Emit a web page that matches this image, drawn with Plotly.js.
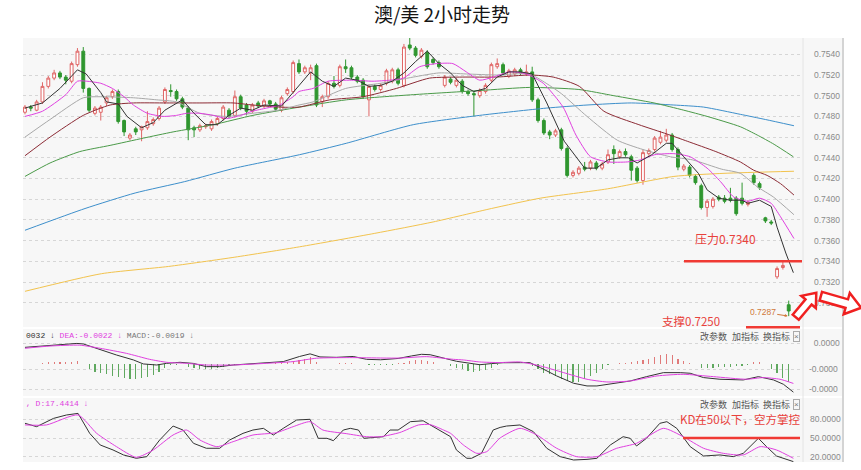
<!DOCTYPE html>
<html><head><meta charset="utf-8">
<script src="https://cdn.plot.ly/plotly-3.0.1.min.js"></script>
<style>html,body{margin:0;padding:0;background:#fff}#chart{width:861px;height:470px}</style>
</head><body><div id="chart"></div>
<script>
// ---------------- DATA ----------------
const titleText = '澳/美 2小时走势';
const open  = [0.7484,0.7489,0.7486,0.7494,0.7509,0.7517,0.7522,0.7518,0.7514,0.7530,0.7543,0.7507,0.7483,0.7484,0.7493,0.7499,0.7504,0.7476,0.7459,0.7468,0.7467,0.7469,0.7473,0.7478,0.7494,0.7505,0.7504,0.7497,0.7488,0.7469,0.7467,0.7470,0.7468,0.7473,0.7478,0.7486,0.7481,0.7499,0.7491,0.7485,0.7493,0.7490,0.7495,0.7492,0.7486,0.7502,0.7504,0.7531,0.7523,0.7522,0.7529,0.7494,0.7499,0.7512,0.7510,0.7528,0.7527,0.7518,0.7515,0.7496,0.7509,0.7506,0.7512,0.7514,0.7525,0.7510,0.7549,0.7546,0.7538,0.7542,0.7535,0.7532,0.7510,0.7516,0.7510,0.7514,0.7504,0.7502,0.7500,0.7504,0.7515,0.7528,0.7530,0.7519,0.7521,0.7525,0.7521,0.7523,0.7496,0.7476,0.7465,0.7462,0.7467,0.7449,0.7423,0.7425,0.7431,0.7430,0.7435,0.7430,0.7436,0.7448,0.7441,0.7446,0.7441,0.7430,0.7418,0.7444,0.7448,0.7455,0.7457,0.7462,0.7448,0.7429,0.7431,0.7422,0.7413,0.7392,0.7393,0.7402,0.7401,0.7401,0.7401,0.7401,0.7395,0.7423,0.7415,0.7382,0.7378,0.7325,0.7334,0.7298];
const high  = [0.7491,0.7491,0.7496,0.7513,0.7519,0.7525,0.7524,0.7520,0.7533,0.7546,0.7547,0.7508,0.7490,0.7491,0.7500,0.7506,0.7506,0.7477,0.7464,0.7470,0.7471,0.7485,0.7479,0.7490,0.7508,0.7511,0.7506,0.7499,0.7490,0.7471,0.7473,0.7473,0.7477,0.7480,0.7491,0.7488,0.7505,0.7501,0.7493,0.7493,0.7495,0.7497,0.7496,0.7494,0.7500,0.7508,0.7534,0.7535,0.7529,0.7530,0.7531,0.7501,0.7514,0.7519,0.7530,0.7535,0.7529,0.7520,0.7517,0.7511,0.7511,0.7512,0.7526,0.7527,0.7527,0.7550,0.7556,0.7548,0.7546,0.7544,0.7537,0.7534,0.7520,0.7518,0.7517,0.7516,0.7506,0.7504,0.7507,0.7512,0.7532,0.7536,0.7532,0.7526,0.7527,0.7527,0.7530,0.7528,0.7498,0.7478,0.7467,0.7468,0.7469,0.7451,0.7428,0.7432,0.7436,0.7438,0.7437,0.7436,0.7448,0.7452,0.7448,0.7449,0.7443,0.7432,0.7448,0.7449,0.7461,0.7466,0.7468,0.7464,0.7450,0.7434,0.7433,0.7424,0.7415,0.7400,0.7402,0.7404,0.7404,0.7411,0.7403,0.7416,0.7399,0.7425,0.7417,0.7383,0.7380,0.7335,0.7340,0.7302];
const low   = [0.7482,0.7485,0.7485,0.7492,0.7507,0.7515,0.7516,0.7511,0.7512,0.7528,0.7503,0.7484,0.7481,0.7476,0.7490,0.7497,0.7473,0.7461,0.7457,0.7462,0.7456,0.7467,0.7471,0.7476,0.7492,0.7499,0.7495,0.7487,0.7457,0.7460,0.7465,0.7468,0.7466,0.7471,0.7476,0.7478,0.7479,0.7486,0.7481,0.7483,0.7488,0.7488,0.7490,0.7485,0.7484,0.7500,0.7502,0.7521,0.7521,0.7515,0.7489,0.7489,0.7497,0.7507,0.7508,0.7522,0.7516,0.7512,0.7497,0.7480,0.7504,0.7504,0.7510,0.7512,0.7510,0.7508,0.7544,0.7537,0.7536,0.7526,0.7530,0.7526,0.7508,0.7511,0.7508,0.7502,0.7500,0.7480,0.7498,0.7502,0.7513,0.7526,0.7520,0.7517,0.7519,0.7520,0.7519,0.7494,0.7474,0.7462,0.7458,0.7460,0.7447,0.7421,0.7421,0.7423,0.7427,0.7428,0.7428,0.7428,0.7434,0.7434,0.7439,0.7441,0.7418,0.7416,0.7414,0.7442,0.7446,0.7453,0.7455,0.7446,0.7428,0.7427,0.7421,0.7414,0.7390,0.7383,0.7391,0.7398,0.7396,0.7397,0.7384,0.7394,0.7393,0.7414,0.7409,0.7377,0.7375,0.7323,0.7332,0.7287];
const close = [0.7489,0.7488,0.7494,0.7509,0.7517,0.7522,0.7518,0.7515,0.7531,0.7543,0.7507,0.7486,0.7488,0.7489,0.7498,0.7504,0.7475,0.7465,0.7462,0.7465,0.7470,0.7475,0.7477,0.7488,0.7506,0.7504,0.7497,0.7489,0.7467,0.7467,0.7471,0.7471,0.7475,0.7478,0.7489,0.7480,0.7499,0.7488,0.7485,0.7491,0.7490,0.7495,0.7492,0.7487,0.7498,0.7506,0.7532,0.7523,0.7527,0.7527,0.7491,0.7499,0.7512,0.7509,0.7528,0.7526,0.7518,0.7514,0.7499,0.7509,0.7506,0.7510,0.7524,0.7525,0.7512,0.7547,0.7546,0.7539,0.7544,0.7528,0.7532,0.7528,0.7518,0.7513,0.7515,0.7504,0.7502,0.7501,0.7505,0.7510,0.7530,0.7531,0.7522,0.7524,0.7525,0.7522,0.7523,0.7496,0.7476,0.7464,0.7462,0.7466,0.7449,0.7423,0.7426,0.7430,0.7429,0.7436,0.7430,0.7434,0.7443,0.7444,0.7446,0.7443,0.7428,0.7418,0.7445,0.7447,0.7459,0.7460,0.7462,0.7448,0.7431,0.7432,0.7423,0.7416,0.7392,0.7398,0.7400,0.7400,0.7398,0.7399,0.7386,0.7396,0.7397,0.7416,0.7411,0.7379,0.7377,0.7333,0.7336,0.7292];

// moving-average lines (bar index, price)
const ma5X = [0,3,6,9,10.5,13,14,16,17.5,20,22,24,27,29,31,33,35,37,39,41,44,46,49,51,53,55,57,59,61,63,65,67,69,71,73,75,77,79,81,83,85,87,89.5,92.5,96,98,100,102,103.5,105,107.5,110,111,113,115.5,117,119,121,123,124,126,128,129,130.5,131.8];
const ma5  = [0.7488,0.7493,0.7507,0.7525,0.7521,0.7503,0.7494,0.7492,0.7480,0.7469,0.7474,0.7486,0.7496,0.7483,0.7472,0.7472,0.7481,0.7488,0.7486,0.7491,0.7490,0.7503,0.7523,0.7514,0.7509,0.7517,0.7515,0.7509,0.7510,0.7514,0.7522,0.7533,0.7543,0.7531,0.7522,0.7510,0.7504,0.7507,0.7518,0.7523,0.7523,0.7521,0.7493,0.7456,0.7430,0.7430,0.7438,0.7440,0.7440,0.7435,0.7443,0.7454,0.7454,0.7441,0.7425,0.7409,0.7401,0.7399,0.7399,0.7396,0.7399,0.7393,0.7373,0.7348,0.7329];
const ma10X = [0,3,7,9,10.6,13,15,17,18.6,21,23.7,26,27.7,30,32.3,34.6,37,39,41.4,43.7,46,47,49.4,52,56,59.7,62.6,64.9,67.7,70.6,73.4,75.7,78,80.3,83.1,86,88.9,92.3,94.5,97,100,103.3,105.6,108,111.3,114.1,117,119.3,121.6,124,126,128,129.6,131.9];
const ma10  = [0.7480,0.7485,0.7501,0.7514,0.7514,0.7512,0.7507,0.7499,0.7491,0.7483,0.7480,0.7481,0.7483,0.7483,0.7481,0.7478,0.7481,0.7485,0.7488,0.7491,0.7499,0.7504,0.7507,0.7514,0.7515,0.7514,0.7515,0.7517,0.7528,0.7531,0.7531,0.7523,0.7515,0.7518,0.7523,0.7521,0.7512,0.7489,0.7462,0.7441,0.7436,0.7436,0.7438,0.7443,0.7444,0.7441,0.7430,0.7417,0.7402,0.7398,0.7401,0.7396,0.7383,0.7362];
const ma20X = [0,4.3,10,13,18.6,22.6,26,30,34.6,39,43.5,47,49.4,55,61,66.6,71,75.7,80.9,86.5,89.4,92,96.4,101.6,106,110.7,114.5,119.5,122.7,125.6,128.4,131.9];
const ma20  = [0.7460,0.7477,0.7498,0.7499,0.7498,0.7496,0.7494,0.7483,0.7480,0.7483,0.7486,0.7491,0.7494,0.7507,0.7512,0.7518,0.7522,0.7521,0.7520,0.7521,0.7512,0.7502,0.7480,0.7457,0.7448,0.7441,0.7438,0.7429,0.7425,0.7412,0.7402,0.7385];
const ma30X = [0,4.3,10,14.6,18.6,24.3,30,35.7,39.1,43.5,47,52.3,58,63.7,69.4,75.1,80.9,86.6,90.6,95.1,99.3,105.3,110.1,113.6,118.5,122.7,125,127.3,129.6,131.9];
const ma30  = [0.7442,0.7460,0.7481,0.7491,0.7493,0.7493,0.7493,0.7493,0.7491,0.7489,0.7489,0.7496,0.7499,0.7507,0.7517,0.7518,0.7518,0.7520,0.7518,0.7509,0.7485,0.7472,0.7463,0.7456,0.7446,0.7436,0.7428,0.7423,0.7415,0.7404];
const ma60X = [0,4.3,9.4,14.6,20.3,25.4,32.3,39.1,47.1,55.1,66.6,78,86.6,95,101,107.9,113,117,122.7,125.6,128.5,131.8];
const ma60  = [0.7422,0.7435,0.7446,0.7452,0.7459,0.7465,0.7472,0.7481,0.7489,0.7496,0.7501,0.7505,0.7508,0.7506,0.7500,0.7493,0.7486,0.7480,0.7470,0.7462,0.7453,0.7441];
const ma120X = [0,10.3,18.9,27.4,36,47.1,55.1,66.6,78,89.4,96.4,104,111.3,116.4,122.7,127,131.9];
const ma120  = [0.7370,0.7391,0.7406,0.7417,0.7430,0.7443,0.7454,0.7472,0.7481,0.7488,0.7491,0.7493,0.7491,0.7489,0.7482,0.7477,0.7471];
const ma250X = [0,13.1,24.6,36,47.1,60,70,80,88.4,99.9,111.3,119.9,131.9];
const ma250  = [0.7311,0.7328,0.7335,0.7344,0.7354,0.7367,0.7378,0.7391,0.7401,0.7410,0.7422,0.7425,0.7427];

const priceTicks = [0.7300,0.7320,0.7340,0.7360,0.7380,0.7400,0.7420,0.7440,0.7460,0.7480,0.7500,0.7520,0.7540];
const priceTickText = ['0.7300','0.7320','0.7340','0.7360','0.7380','0.7400','0.7420','0.7440','0.7460','0.7480','0.7500','0.7520','0.7540'];

// MACD
const macdHist = [0.00006,0.00006,0.00008,0.0002,0.00026,0.00031,0.00023,0.00023,0.00026,0.00043,0.00006,-0.00058,-0.00084,-0.00104,-0.00112,-0.00135,-0.0015,-0.00161,-0.00173,-0.00164,-0.00161,-0.00141,-0.00123,-0.00084,-0.00046,-0.00008,-0.00003,0.00003,-0.00026,-0.00046,-0.00058,-0.00058,-0.00049,-0.00038,-0.00026,-0.0002,-0.00008,-0.00003,0.00003,0.00003,0.00006,0.00006,0.00008,0.00012,0.0002,0.00031,0.00043,0.00055,0.0006,0.00082,0.00031,0.00008,0.00003,0.00001,0.00015,0.00015,0.00012,0.00003,-0.00002,-0.00005,-0.0001,-0.0001,-0.0001,-0.00005,0.00012,0.0002,0.00038,0.00046,0.00046,0.00043,0.00026,0.00005,0.00003,-0.0002,-0.00038,-0.00058,-0.00077,-0.00084,-0.00077,-0.0006,-0.00038,-0.00006,0.00003,0.00003,0.00003,0.00003,0.00003,-0.00017,-0.00058,-0.00095,-0.00115,-0.00135,-0.00164,-0.00192,-0.00204,-0.00204,-0.00173,-0.00135,-0.00095,-0.00058,-0.00006,0.00008,0.00012,0.0002,0.00026,0.00038,0.00049,0.00066,0.00089,0.00104,0.00115,0.00104,0.00066,0.00038,0.0002,0,-0.00038,-0.00038,-0.00038,-0.00031,-0.00031,-0.00026,-0.0002,-0.00015,-0.00012,0.00026,0.00026,0.00003,-0.00058,-0.00095,-0.00153,-0.0020];
const difX = [0,3.1,8.9,10,12.9,15.7,18.6,20.3,22.6,24.3,26.6,28.9,31.1,33.4,35.7,38.6,41.4,44.3,47.1,48.9,50.6,53.4,56.3,58.6,61,64,66.3,68,69.5,71.8,74,76.5,78,80,82,85,86.6,88.4,91.2,94.1,96.4,98.1,100.9,103.8,106.6,109.5,112.4,114.1,116.4,119.2,123.2,125.8,128.4,130.1,131.8];
const dif  = [0.00195,0.0021,0.0024,0.00234,0.00165,0.00107,0.0005,0.00004,-0.00008,0.00011,0.00023,0.0001,-0.00027,-0.00027,-0.00008,0.00004,0.00019,0.00031,0.0009,0.0012,0.00085,0.0008,0.0009,0.00057,0.00052,0.00067,0.00096,0.00115,0.0011,0.0007,0.00035,0.0001,-0.00005,0.00008,0.00018,0.00019,0.00019,-0.00038,-0.00134,-0.00218,-0.00249,-0.00249,-0.00222,-0.00192,-0.00142,-0.00096,-0.00096,-0.00103,-0.00153,-0.00172,-0.0018,-0.00142,-0.0018,-0.0023,-0.0032];
const deaX = [0,4.3,9.4,12.9,17.4,21.4,24.3,27.7,31.1,35.7,41.4,46,50,55.7,61.4,64.3,68.9,73.5,75.2,78,81.5,84.9,88.4,92.4,96.4,99.8,103.8,108.4,112.9,118.1,123.8,126.6,129.5,131.8];
const dea  = [0.00184,0.0021,0.0022,0.00184,0.00126,0.00057,0.00023,0.00011,-0.00008,-0.00008,0.00011,0.00031,0.0007,0.00077,0.00072,0.00072,0.00088,0.00057,0.0005,0.00027,0.0002,0.00027,-0.00019,-0.00096,-0.00172,-0.00203,-0.00192,-0.00134,-0.00115,-0.00142,-0.00172,-0.00153,-0.00172,-0.0022];
const macdTickText = ['\u20070.0000','-0.0000','-0.0000'];

// KD
const kX = [0,2,4.9,7.1,9.1,11.1,12.9,15.1,16.9,19.1,20.9,23.1,25.4,27.1,28.9,31.1,33.4,35.1,37.4,39.1,40.9,42.6,44.3,46.6,48.9,50.3,51.8,52.9,54.6,55.8,57.2,58.1,61.5,62.6,64,66.1,68.3,69.5,71.2,73,74,75.8,76.6,78.3,80.3,81.5,82.6,84.9,87.2,89.5,91.8,94.1,96.4,98.1,100.4,102.6,103.8,104.9,106.6,108.9,110.1,111.8,114.1,116.4,119.2,121.5,123.2,125.8,127.2,128.9,131.8];
const kVal = [73.6,68.2,81.5,86.9,89.5,57.5,38.8,30.8,22.8,17.4,20.1,46.8,69.2,62.8,41.5,33.5,33.5,46.8,57.5,62.8,65.5,54.8,65.5,78.9,80,49.5,49.5,45.7,62.8,65.5,62.8,49.5,52.1,62.8,62.8,76.2,77.6,70.9,62.8,52.1,30.8,17.4,17.4,25.4,62.8,67,69.2,70.9,60.2,33.5,20.1,14.7,15.7,17.4,38.8,52.1,49.5,37.2,49.5,73.6,76.2,65.5,36.1,21.1,22.8,20.1,25.4,49.5,36.1,21.1,12.1];
const dX = [0,3.7,9.1,12.3,15.7,19.1,22,25.4,27.7,30,32.9,35.7,39.1,43.1,46,48.9,51.1,55.1,58.6,61,64.3,67.5,69.5,71.8,73,75.2,77.5,79.2,81.5,84.9,87.8,91.2,94.6,98.1,101.5,104.9,109.5,112.9,116.4,119.8,123.2,126.1,128.9,131.8];
const dVal = [71,71,87,57.5,36.1,19,30.8,54.8,62.8,46.8,36.1,44.1,54.8,58.5,68.2,76.2,62.8,57,52.1,52.1,58.8,70.9,71.5,62.8,57.5,38.8,25.4,28.1,50,65.5,54.8,33.5,20.1,20.1,33.5,41.5,65.5,52.1,33.5,25.4,22.8,36.1,30.8,17.4];
const kdTicks = [80,50,20];
const kdTickText = ['80.0000','50.0000','20.0000'];

const macdHeader = ['0032 ↓ ', 'DEA:-0.0022 ↓ ', 'MACD:-0.0019 ↓'];
const kdHeader = ', D:17.4414 ↓';
const toolWords = ['改参数','加指标','换指标'];
const highLabel = {idx:66, price:0.7556, text:'0.7556'};
const lowLabel  = {idx:131, price:0.7287, text:'0.7287'};
const resistance = {price:0.7340, text:'压力0.7340'};
const support = {text:'支撑0.7250'};
const kdNote = {level:50, text:'KD在50以下，空方掌控'};

// ---------------- LAYOUT GEOMETRY ----------------
const L=23, R=803, T=38, B=462;
const px2x = p => (p-L)/(R-L);
const px2y = p => (B-p)/(B-T);
const priceAtPx = p => 0.7540 - (p-54.3)/10350;
const macdAtPx = p => (364.3-p)*0.000115;
const kdAtPx = p => 50 + (438-p)/0.623;

const idx = open.map((_,i)=>i);
const RED='#e06666', GREEN='#2f962f';

const lineTrace = (x,y,color,shape,yaxis) => ({type:'scatter',mode:'lines',x:x,y:y,xaxis:'x',yaxis:yaxis||'y',
  line:{color:color,width:1,shape:shape||'spline',smoothing:0.6},hoverinfo:'skip',showlegend:false});

const traces = [
  lineTrace(ma250X, ma250, '#f2c34e'),
  lineTrace(ma120X, ma120, '#3d8fcb'),
  lineTrace(ma60X, ma60, '#4a9a48'),
  lineTrace(ma30X, ma30, '#8c2b35'),
  lineTrace(ma20X, ma20, '#a8a8a8'),
  {type:'candlestick',x:idx,open:open,high:high,low:low,close:close,xaxis:'x',yaxis:'y',
   increasing:{line:{color:RED,width:1},fillcolor:'#ffffff'},
   decreasing:{line:{color:GREEN,width:1},fillcolor:GREEN},
   whiskerwidth:0,hoverinfo:'skip',showlegend:false},
  lineTrace(ma10X, ma10, '#e040e0'),
  lineTrace(ma5X, ma5, '#333333','linear'),
  {type:'bar',x:idx,y:macdHist,xaxis:'x',yaxis:'y2',width:0.2,
   marker:{color:macdHist.map(v=>v>=0?'#e07a7a':'#5fa85f'),line:{width:0}},hoverinfo:'skip',showlegend:false},
  lineTrace(difX, dif, '#333333','linear','y2'),
  lineTrace(deaX, dea, '#e040e0','spline','y2'),
  lineTrace(kX, kVal, '#333333','linear','y3'),
  lineTrace(dX, dVal, '#e040e0','spline','y3'),
];

const axisFont = {family:'Liberation Sans, Arial, sans-serif', size:8.5, color:'#8a8a8a'};
const yBase = {side:'right',showline:false,zeroline:false,ticks:'',showgrid:true,gridcolor:'#d6d6d6',griddash:'dot',gridwidth:1,
  tickfont:axisFont,tickmode:'array',fixedrange:true};

const annotations = [];
const addText = (px,py,text,font,anchor,extra) => annotations.push(Object.assign({xref:'paper',yref:'paper',x:px2x(px),y:px2y(py),
  text:text,showarrow:false,xanchor:anchor||'left',yanchor:'middle',font:font},extra||{}));

// MACD header
addText(L+1,335,'<span style="color:#333">'+macdHeader[0]+'</span><span style="color:#e040e0">'+macdHeader[1]+'</span><span style="color:#777">'+macdHeader[2]+'</span>',
  {family:'Liberation Mono, monospace',size:8,color:'#333'});
addText(L+1,403,kdHeader,{family:'Liberation Mono, monospace',size:8,color:'#e040e0'});
// tool words on both indicator panels
[336,404].forEach(py=>{
  [698,730,761].forEach((px,i)=>addText(px,py,toolWords[i],{family:'Noto Sans CJK SC',size:9,color:'#555'}));
  addText(796.5,py,'×',{family:'Liberation Sans',size:8,color:'#777'},'center',{bordercolor:'#aaa',borderwidth:1,borderpad:0,bgcolor:'#f7f7f7'});
});
// red notes
const redFont = {family:'Noto Sans CJK SC',size:12,color:'#e8413c'};
addText(725,238,resistance.text,redFont,'center');
addText(691,321,support.text,{family:'Noto Sans CJK SC',size:11.5,color:'#e8413c'},'center');
addText(740,419,kdNote.text,{family:'Noto Sans CJK SC',size:11.5,color:'#e8413c'},'center');
// price labels with small arrows
const orange = '#d0773a';
annotations.push({xref:'x',yref:'y',x:highLabel.idx,y:highLabel.price,text:highLabel.text,showarrow:true,ax:24,ay:4,
  arrowhead:2,arrowsize:0.6,arrowwidth:1,arrowcolor:orange,font:{family:'Liberation Sans',size:8.5,color:orange},standoff:1});
annotations.push({xref:'x',yref:'y',x:lowLabel.idx,y:lowLabel.price,text:lowLabel.text,showarrow:true,ax:-26,ay:-4,
  arrowhead:2,arrowsize:0.6,arrowwidth:1,arrowcolor:orange,font:{family:'Liberation Sans',size:8.5,color:orange},standoff:1});

// shapes
const shapes = [];
[[T,327],[329,396],[398,B]].forEach(([a,b])=>shapes.push({type:'rect',xref:'paper',yref:'paper',x0:1,x1:px2x(842),y0:px2y(b),y1:px2y(a),
  fillcolor:'#f7f7f7',line:{width:0},layer:'below'}));
shapes.push({type:'line',xref:'paper',yref:'paper',x0:1,x1:1,y0:0,y1:1,line:{color:'#e4e4e4',width:1}});
shapes.push({type:'line',xref:'paper',yref:'paper',x0:px2x(843),x1:px2x(843),y0:0,y1:1,line:{color:'#d4d4d4',width:2}});
shapes.push({type:'line',xref:'paper',yref:'y',x0:px2x(684),x1:px2x(802),y0:resistance.price,y1:resistance.price,line:{color:'#f03a34',width:2.5}});
shapes.push({type:'line',xref:'paper',yref:'paper',x0:px2x(746),x1:px2x(800),y0:px2y(327.3),y1:px2y(327.3),line:{color:'#f03a34',width:2.5}});
shapes.push({type:'line',xref:'paper',yref:'y3',x0:px2x(683),x1:px2x(800),y0:kdNote.level,y1:kdNote.level,line:{color:'#f03a34',width:2.5}});
function arrowPath(cx,cy,len,angDeg,shaftW,headW,headLen){
  const a=angDeg*Math.PI/180, ux=Math.cos(a), uy=Math.sin(a), vx=-uy, vy=ux;
  const h=len/2, pts=[[-h,-shaftW/2],[h-headLen,-shaftW/2],[h-headLen,-headW/2],[h,0],[h-headLen,headW/2],[h-headLen,shaftW/2],[-h,shaftW/2]];
  return pts.map((p,i)=>{const sx=cx+p[0]*ux+p[1]*vx, sy=cy+p[0]*uy+p[1]*vy; return (i?'L':'M')+px2x(sx).toFixed(5)+','+px2y(sy).toFixed(5);}).join(' ')+' Z';
}
shapes.push({type:'path',xref:'paper',yref:'paper',path:arrowPath(806,305,32,-50,8,19,12),fillcolor:'#ffffff',line:{color:'#f02020',width:2.5}});
shapes.push({type:'path',xref:'paper',yref:'paper',path:arrowPath(841,302,42,16,9,22,15),fillcolor:'#ffffff',line:{color:'#f02020',width:2.5}});

const layout = {
  width:861,height:470,
  margin:{l:L,r:861-R,t:T,b:470-B,pad:0},
  paper_bgcolor:'#ffffff',plot_bgcolor:'#f7f7f7',
  showlegend:false,hovermode:false,
  title:{text:titleText,x:442/861,xref:'container',xanchor:'center',y:1-15/470,yref:'container',yanchor:'middle',
    font:{family:'Noto Sans CJK SC',size:19,color:'#151515'}},
  xaxis:{range:[-0.34,133.45],visible:false,fixedrange:true,rangeslider:{visible:false},anchor:'y3'},
  yaxis:Object.assign({},yBase,{domain:[px2y(327),1],range:[priceAtPx(327),priceAtPx(T)],tickvals:priceTicks,ticktext:priceTickText,ticklabelstandoff:10}),
  yaxis2:Object.assign({},yBase,{domain:[px2y(396),px2y(329)],range:[macdAtPx(396),macdAtPx(329)],
    tickvals:[macdAtPx(343.3),macdAtPx(369),macdAtPx(389.3)],ticktext:macdTickText,ticklabelstandoff:5}),
  yaxis3:Object.assign({},yBase,{domain:[0,px2y(398)],range:[kdAtPx(B),kdAtPx(398)],tickvals:kdTicks,ticktext:kdTickText,ticklabelstandoff:6}),
  bargap:0,
  annotations:annotations,
  shapes:shapes
};
Plotly.newPlot('chart',traces,layout,{displayModeBar:false,staticPlot:true});
</script></body></html>
